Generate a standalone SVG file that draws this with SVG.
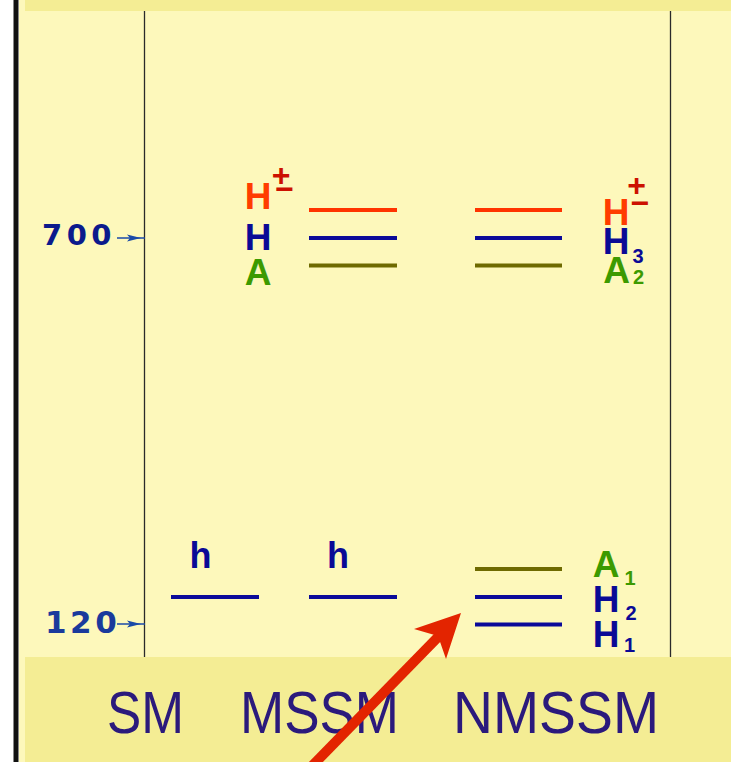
<svg xmlns="http://www.w3.org/2000/svg" width="731" height="762" viewBox="0 0 731 762">
<style>
.lbl{font-family:"Liberation Sans",Arial,sans-serif;font-weight:bold;text-anchor:middle}
.big{font-size:37px}
.sub{font-size:20px}
.pm{font-size:32px;fill:#cc1100}
.or{fill:#ff3c00}
.bl{fill:#0a0a96}
.gr{fill:#3c9a00}
.axis{font-family:"DejaVu Sans",sans-serif;font-weight:bold}
.model{font-family:"Liberation Sans",Arial,sans-serif;font-size:60px;fill:#2b1a7c}
.lvl{stroke-width:4;fill:none}
.lo{stroke:#ff3300}
.lb{stroke:#0a0a99}
.lg{stroke:#6e6a00}
.vline{stroke:#2a2a2a;stroke-width:1.3}
</style>
<defs>
<g id="tick">
<line x1="0" y1="0" x2="28" y2="0" stroke="#1a4aa8" stroke-width="1.5"/>
<polygon points="10,-3.5 24,0 10,3.5 13,0" fill="#1a4aa8"/>
</g>
</defs>
<rect x="0" y="0" width="731" height="762" fill="#ffffff"/>
<rect x="19" y="0" width="712" height="762" fill="#fdf8bb"/>
<rect x="13.5" y="0" width="5" height="762" fill="#111111"/>
<rect x="25" y="0" width="706" height="11" fill="#f4ed94"/>
<rect x="25" y="657" width="706" height="105" fill="#f4ed94"/>
<line class="vline" x1="144.5" y1="11" x2="144.5" y2="657"/>
<line class="vline" x1="670.5" y1="11" x2="670.5" y2="657"/>

<g id="axis700">
<text class="axis" x="42" y="245" font-size="29" letter-spacing="4.5" fill="#0b1a8c">700</text>
<use href="#tick" x="117" y="238"/>
</g>
<g id="axis120">
<text class="axis" x="45" y="633" font-size="31" letter-spacing="3.5" fill="#1a3a9c">120</text>
<use href="#tick" x="117" y="624"/>
</g>

<g id="mssm-heavy">
<text class="lbl big or" x="258" y="209">H</text>
<text class="lbl pm" x="281" y="186">+</text>
<text class="lbl pm" x="284.5" y="200">−</text>
<text class="lbl big bl" x="258" y="250">H</text>
<text class="lbl big gr" x="258" y="285">A</text>
<line class="lvl lo" x1="309" y1="210" x2="397" y2="210"/>
<line class="lvl lb" x1="309" y1="238" x2="397" y2="238"/>
<line class="lvl lg" x1="309" y1="265.5" x2="397" y2="265.5"/>
</g>

<g id="nmssm-heavy">
<line class="lvl lo" x1="475" y1="210" x2="562" y2="210"/>
<line class="lvl lb" x1="475" y1="238" x2="562" y2="238"/>
<line class="lvl lg" x1="475" y1="265.5" x2="562" y2="265.5"/>
<text class="lbl big or" x="616" y="225">H</text>
<text class="lbl pm" x="636.5" y="196">+</text>
<text class="lbl pm" x="640" y="213.5">−</text>
<text class="lbl big bl" x="616" y="254">H</text>
<text class="lbl sub bl" x="638" y="263">3</text>
<text class="lbl big gr" x="616.5" y="283">A</text>
<text class="lbl sub gr" x="638.5" y="284">2</text>
</g>

<g id="sm-light">
<text class="lbl bl" font-size="36" x="200.5" y="568">h</text>
<line class="lvl lb" x1="171" y1="597" x2="259" y2="597"/>
</g>
<g id="mssm-light">
<text class="lbl bl" font-size="36" x="338" y="568">h</text>
<line class="lvl lb" x1="309" y1="597" x2="397" y2="597"/>
</g>
<g id="nmssm-light">
<line class="lvl lg" x1="475" y1="569" x2="562" y2="569"/>
<line class="lvl lb" x1="475" y1="597" x2="562" y2="597"/>
<line class="lvl lb" x1="475" y1="624.5" x2="562" y2="624.5"/>
<text class="lbl big gr" x="606" y="577">A</text>
<text class="lbl sub gr" x="630" y="585">1</text>
<text class="lbl big bl" x="606" y="611.7">H</text>
<text class="lbl sub bl" x="631" y="620">2</text>
<text class="lbl big bl" x="606" y="646.7">H</text>
<text class="lbl sub bl" x="629.5" y="652">1</text>
</g>

<g id="models">
<text class="model" x="107" y="733" textLength="77" lengthAdjust="spacingAndGlyphs">SM</text>
<text class="model" x="240" y="733" textLength="159" lengthAdjust="spacingAndGlyphs">MSSM</text>
<text class="model" x="453" y="733" textLength="206" lengthAdjust="spacingAndGlyphs">NMSSM</text>
</g>

<g id="connectors">
<line x1="312" y1="766" x2="440" y2="635" stroke="#e32400" stroke-width="10"/>
<polygon points="461,613 446,659 438,636 414,629" fill="#e32400"/>
</g>
</svg>
